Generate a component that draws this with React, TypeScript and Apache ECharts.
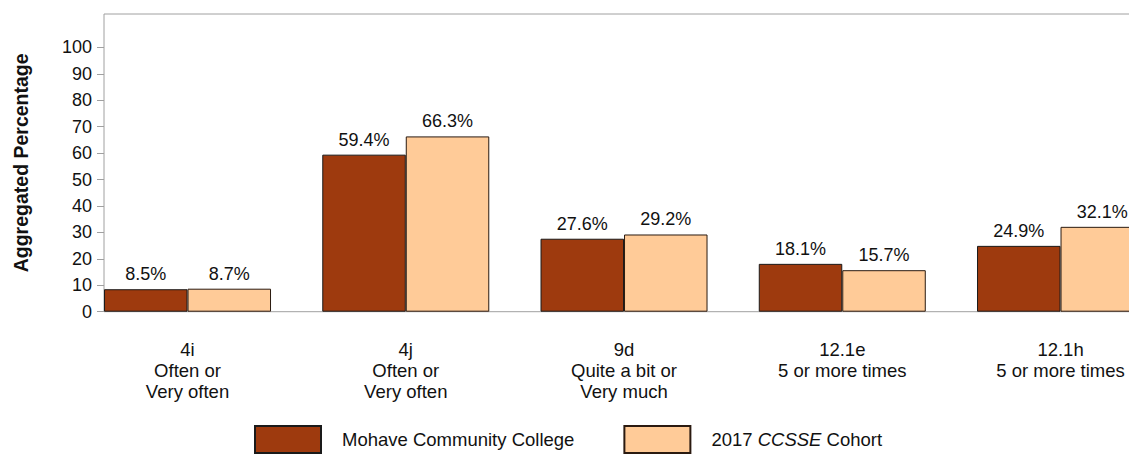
import React, { useEffect, useRef } from "react";
import * as echarts from "echarts";

const categories = [
  "4i\nOften or\nVery often",
  "4j\nOften or\nVery often",
  "9d\nQuite a bit or\nVery much",
  "12.1e\n5 or more times",
  "12.1h\n5 or more times",
];
const collegeValues = [8.5, 59.4, 27.6, 18.1, 24.9];
const cohortValues = [8.7, 66.3, 29.2, 15.7, 32.1];
const yTicks = [0, 10, 20, 30, 40, 50, 60, 70, 80, 90, 100];
const seriesNames = ["Mohave Community College", "2017 CCSSE Cohort"];

const FONT = "'Liberation Sans', Arial, Helvetica, sans-serif";
const Y_MAX = 112.6;

export default function App() {
  const ref = useRef<HTMLDivElement>(null);
  useEffect(() => {
    if (!ref.current) return;
    const chart = echarts.init(ref.current, undefined, { renderer: "svg" });
    const label = {
      show: true,
      position: "top",
      distance: 6,
      fontSize: 18,
      fontFamily: FONT,
      color: "#111",
      formatter: (p: any) => Number(p.value).toFixed(1) + "%",
    };
    chart.setOption({
      animation: false,
      textStyle: { fontFamily: FONT },
      grid: [
        {
          left: 104,
          top: 14,
          right: -200,
          height: 297.7,
          show: true,
          borderColor: "#a0a0a0",
          borderWidth: 1,
          backgroundColor: "transparent",
          outerBoundsMode: "none",
          containLabel: false,
        },
        {
          left: 78.4,
          top: 14,
          width: 1091.25,
          height: 297.7,
          outerBoundsMode: "none",
          containLabel: false,
        },
      ],
      xAxis: [
        { type: "value", gridIndex: 0, show: false, min: 0, max: 1 },
        {
          type: "category",
          gridIndex: 1,
          data: categories,
          axisLine: { show: false },
          axisTick: { show: false },
          axisLabel: {
            margin: 27,
            fontSize: 18.5,
            lineHeight: 21,
            color: "#111",
            fontFamily: FONT,
            interval: 0,
          },
        },
      ],
      yAxis: [
        {
          type: "value",
          gridIndex: 0,
          min: 0,
          max: Y_MAX,
          name: "Aggregated Percentage",
          nameLocation: "middle",
          nameGap: 73,
          nameTextStyle: {
            fontSize: 19.5,
            fontWeight: "bold",
            color: "#111",
            fontFamily: FONT,
          },
          axisLine: { show: false },
          splitLine: { show: false },
          axisTick: {
            show: true,
            length: 7,
            lineStyle: { color: "#a0a0a0" },
            customValues: yTicks,
          },
          axisLabel: {
            margin: 12,
            fontSize: 18,
            color: "#111",
            fontFamily: FONT,
            customValues: yTicks,
          },
        },
        {
          type: "value",
          gridIndex: 1,
          min: 0,
          max: Y_MAX,
          show: false,
        },
      ],
      legend: {
        top: 425,
        left: 254,
        padding: 0,
        itemWidth: 66,
        itemHeight: 27,
        itemGap: 49,
        icon: "rect",
        data: seriesNames,
        formatter: (name: string) =>
          name === "2017 CCSSE Cohort" ? "2017 {i|CCSSE} Cohort" : name,
        textStyle: {
          fontSize: 18.5,
          color: "#111",
          fontFamily: FONT,
          padding: [0, 0, 0, 16],
          rich: {
            i: { fontStyle: "italic", fontSize: 18.5, color: "#111", fontFamily: FONT },
          },
        },
      },
      series: [
        {
          name: seriesNames[0],
          type: "bar",
          xAxisIndex: 1,
          yAxisIndex: 1,
          data: collegeValues,
          barWidth: 83.5,
          barGap: "0%",
          itemStyle: { color: "#9E3A0E", borderColor: "#1a1a1a", borderWidth: 1 },
          label,
        },
        {
          name: seriesNames[1],
          type: "bar",
          xAxisIndex: 1,
          yAxisIndex: 1,
          data: cohortValues,
          barWidth: 83.5,
          barGap: "0%",
          itemStyle: { color: "#FFCB98", borderColor: "#2a1a10", borderWidth: 1 },
          label,
        },
      ],
    });
    return () => chart.dispose();
  }, []);
  return (
    <div
      ref={ref}
      style={{ position: "absolute", left: 0, top: 0, width: 1129, height: 454 }}
    />
  );
}
